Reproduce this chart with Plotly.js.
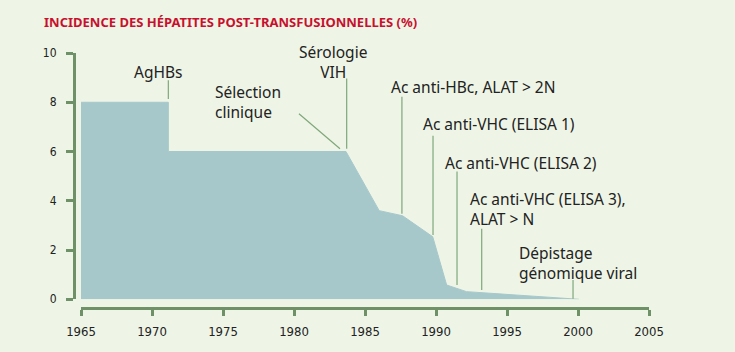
<!DOCTYPE html>
<html>
<head>
<meta charset="utf-8">
<script src="https://cdn.plot.ly/plotly-3.0.1.min.js"></script>
<style>
  html, body { margin: 0; padding: 0; background: #eef5e6; }
  #chart { width: 735px; height: 352px; }
</style>
</head>
<body>
<div id="chart"></div>
<script>
// Incidence curve (year, %)
const years = [1965, 1971.15, 1971.15, 1983.66, 1986.0, 1987.65, 1989.77, 1990.75, 1992.15, 2000.07];
const incidence = [8.0, 8.0, 6.0, 6.0, 3.6, 3.39, 2.54, 0.58, 0.31, 0.0];

// Event pointer lines (data coords)
const lineX0 = [1971.15, 1980.35, 1983.71, 1987.6, 1989.79, 1991.48, 1993.22, 1999.65];
const lineX1 = [1971.15, 1983.24, 1983.71, 1987.6, 1989.79, 1991.48, 1993.22, 1999.65];
const lineY0 = [8.89, 7.53, 8.96, 8.22, 6.64, 5.19, 2.86, 0.78];
const lineY1 = [8.13, 6.11, 6.11, 3.47, 2.61, 0.58, 0.38, 0.02];

// Event labels
const labels = [
  "AgHBs",
  "Sélection<br>clinique",
  "Sérologie<br>VIH",
  "Ac anti-HBc, ALAT > 2N",
  "Ac anti-VHC (ELISA 1)",
  "Ac anti-VHC (ELISA 2)",
  "Ac anti-VHC (ELISA 3),<br>ALAT > N",
  "Dépistage<br>génomique viral"
];
const labelX = [1970.42, 1974.3, 1982.75, 1986.7, 1988.95, 1990.52, 1992.28, 1995.7];
const labelY = [9.24, 8.0, 9.65, 8.64, 7.11, 5.53, 3.67, 1.48];
const labelAnchor = ["center", "left", "center", "left", "left", "left", "left", "left"];

const xTicks = [1965, 1970, 1975, 1980, 1985, 1990, 1995, 2000, 2005];
const yTicks = [0, 2, 4, 6, 8, 10];

const AXIS_GREEN = "#6f9168";
const LINE_GREEN = "#7fa77a";
const BG = "#eef5e6";
const FILL = "#a7c8cb";

const trace = {
  x: years,
  y: incidence,
  type: "scatter",
  mode: "lines",
  fill: "tozeroy",
  fillcolor: FILL,
  line: { color: FILL, width: 1 },
  hoverinfo: "skip"
};

const shapes = lineX0.map((x0, i) => ({
  type: "line", xref: "x", yref: "y",
  x0: x0, x1: lineX1[i], y0: lineY0[i], y1: lineY1[i],
  line: { color: LINE_GREEN, width: 1.2 }
}));

const annotations = labels.map((t, i) => ({
  text: t, x: labelX[i], y: labelY[i], xref: "x", yref: "y",
  xanchor: labelAnchor[i], yanchor: "middle", align: labelAnchor[i] === "center" ? "center" : "left",
  showarrow: false,
  font: { family: "Noto Sans, Open Sans, sans-serif", size: 15.5, color: "#222" }
}));

const W = 735, H = 352;
const mL = 74, mR = 86, mT = 53.3, mB = 44;
const plotW = W - mL - mR, plotH = H - mT - mB;

const layout = {
  width: W, height: H,
  paper_bgcolor: BG, plot_bgcolor: BG,
  margin: { l: mL, r: mR, t: mT, b: mB, pad: 0 },
  showlegend: false,
  title: {
    text: "<b>INCIDENCE DES HÉPATITES POST-TRANSFUSIONNELLES (%)</b>",
    font: { family: "Noto Sans, sans-serif", size: 13, color: "#c8102e" },
    x: 44 / W, xanchor: "left", xref: "container",
    y: 1 - 22.5 / H, yanchor: "middle", yref: "container"
  },
  xaxis: {
    range: [1965, 2005],
    domain: [7 / plotW, 1],
    anchor: "free", position: 0,
    tickvals: xTicks, ticktext: xTicks.map(String),
    showgrid: false, zeroline: false,
    showline: true, linecolor: AXIS_GREEN, linewidth: 3,
    ticks: "outside", ticklen: 6, tickwidth: 3, tickcolor: AXIS_GREEN,
    ticklabelstandoff: 4,
    tickfont: { family: "DejaVu Sans Condensed, sans-serif", size: 13, color: "#222" },
    fixedrange: true
  },
  yaxis: {
    range: [0, 10],
    domain: [8.7 / plotH, 1],
    anchor: "free", position: 0,
    tickvals: yTicks, ticktext: yTicks.map(String),
    showgrid: false, zeroline: false,
    showline: true, linecolor: AXIS_GREEN, linewidth: 3,
    ticks: "outside", ticklen: 7, tickwidth: 3, tickcolor: AXIS_GREEN,
    ticklabelstandoff: 7,
    tickfont: { family: "DejaVu Sans Condensed, sans-serif", size: 12, color: "#222" },
    fixedrange: true
  },
  shapes: shapes,
  annotations: annotations
};

Plotly.newPlot("chart", [trace], layout, { displayModeBar: false, staticPlot: true });
</script>
</body>
</html>
